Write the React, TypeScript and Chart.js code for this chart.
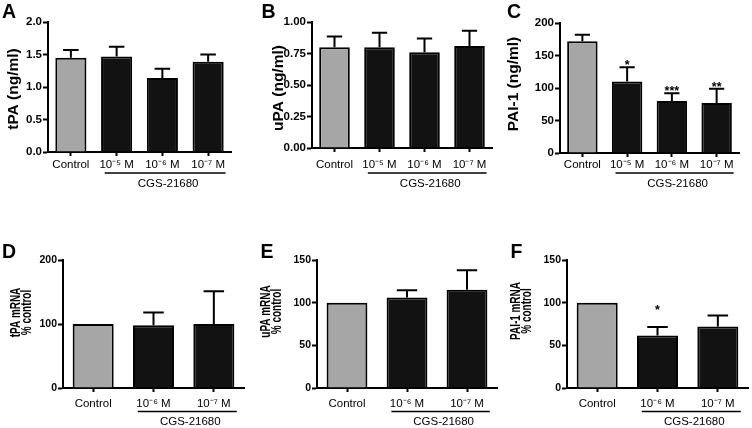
import React, { useEffect, useRef } from 'react';
import { Chart, registerables } from 'chart.js';

Chart.register(...registerables);

const FONT = '"Liberation Sans", Arial, Helvetica, sans-serif';

// ---------------- data ----------------
const proteinCategories = ['Control', '10⁻⁵ M', '10⁻⁶ M', '10⁻⁷ M'];
const mrnaCategories = ['Control', '10⁻⁶ M', '10⁻⁷ M'];
const treatmentGroup = 'CGS-21680';

const tpaProtein = [1.45, 1.47, 1.14, 1.39];
const tpaProteinSem = [0.12, 0.15, 0.14, 0.11];
const upaProtein = [0.8, 0.8, 0.76, 0.81];
const upaProteinSem = [0.085, 0.115, 0.11, 0.12];
const pai1Protein = [172, 110, 80, 77];
const pai1ProteinSem = [10, 22, 12, 22];
const pai1ProteinStars = ['', '*', '***', '**'];

const tpaMrna = [100, 98, 100];
const tpaMrnaSem = [0, 20, 51];
const upaMrna = [100, 106, 115];
const upaMrnaSem = [0, 8.5, 23];
const pai1Mrna = [100, 61.5, 72];
const pai1MrnaSem = [0, 10, 13];
const pai1MrnaStars = ['', '*', ''];
const pai1MrnaStarLevel = 95;

const tpaProteinTicks = [0, 0.5, 1, 1.5, 2];
const upaProteinTicks = [0, 0.25, 0.5, 0.75, 1];
const pai1ProteinTicks = [0, 50, 100, 150, 200];
const tpaMrnaTicks = [0, 100, 200];
const upaMrnaTicks = [0, 50, 100, 150];
const pai1MrnaTicks = [0, 50, 100, 150];

const tpaProteinTitle = ['tPA (ng/ml)'];
const upaProteinTitle = ['uPA (ng/ml)'];
const pai1ProteinTitle = ['PAI-1 (ng/ml)'];
const tpaMrnaTitle = ['tPA mRNA', '% control'];
const upaMrnaTitle = ['uPA mRNA', '% control'];
const pai1MrnaTitle = ['PAI-1 mRNA', '% control'];

const CONTROL_FILL = '#a6a6a6';
const TREATED_FILL = '#121212';
const INK = '#000000';

type Panel = {
  letter: string;
  letterX: number;
  letterY: number;
  title: string[];
  titleX: number;
  titleY: number;
  titleBaselines?: number[];
  titleSize: number;
  titleStretch: number;
  cats: string[];
  values: number[];
  errors: number[];
  stars?: string[];
  starLevel?: number;
  ticks: number[];
  decimals: number;
  tickSize: number;
  box: { x: number; y: number; w: number; h: number };
  area: { left: number; right: number; top: number; bottom: number };
  labelPad: number;
  lineY: number;
  groupY: number;
};

const panels: Panel[] = [
  {
    letter: 'A', letterX: 2, letterY: 18,
    title: tpaProteinTitle, titleX: 14, titleY: 89, titleSize: 15.5, titleStretch: 1,
    cats: proteinCategories, values: tpaProtein, errors: tpaProteinSem,
    ticks: tpaProteinTicks, decimals: 1, tickSize: 11.5,
    box: { x: 0, y: 0, w: 250, h: 210 },
    area: { left: 48, right: 231, top: 22, bottom: 152 },
    labelPad: 2, lineY: 173, groupY: 184,
  },
  {
    letter: 'B', letterX: 261.5, letterY: 18,
    title: upaProteinTitle, titleX: 279, titleY: 88, titleSize: 15.5, titleStretch: 1,
    cats: proteinCategories, values: upaProtein, errors: upaProteinSem,
    ticks: upaProteinTicks, decimals: 2, tickSize: 11.5,
    box: { x: 250, y: 0, w: 250, h: 210 },
    area: { left: 312, right: 492, top: 22, bottom: 148 },
    labelPad: 6, lineY: 173, groupY: 184,
  },
  {
    letter: 'C', letterX: 507, letterY: 18,
    title: pai1ProteinTitle, titleX: 514, titleY: 84, titleSize: 15.5, titleStretch: 1,
    cats: proteinCategories, values: pai1Protein, errors: pai1ProteinSem, stars: pai1ProteinStars,
    ticks: pai1ProteinTicks, decimals: 0, tickSize: 11.5,
    box: { x: 500, y: 0, w: 252, h: 210 },
    area: { left: 560, right: 739, top: 23, bottom: 153 },
    labelPad: 1, lineY: 173, groupY: 184,
  },
  {
    letter: 'D', letterX: 2, letterY: 258,
    title: tpaMrnaTitle, titleX: 21, titleY: 312.5, titleBaselines: [19.5, 30.5], titleSize: 14, titleStretch: 0.71,
    cats: mrnaCategories, values: tpaMrna, errors: tpaMrnaSem,
    ticks: tpaMrnaTicks, decimals: 0, tickSize: 10.5,
    box: { x: 0, y: 210, w: 250, h: 218 },
    area: { left: 63, right: 244, top: 260, bottom: 388 },
    labelPad: 5, lineY: 411.5, groupY: 422,
  },
  {
    letter: 'E', letterX: 260.5, letterY: 258,
    title: upaMrnaTitle, titleX: 270, titleY: 311.5, titleBaselines: [269.5, 280.5], titleSize: 14, titleStretch: 0.71,
    cats: mrnaCategories, values: upaMrna, errors: upaMrnaSem,
    ticks: upaMrnaTicks, decimals: 0, tickSize: 10.5,
    box: { x: 250, y: 210, w: 250, h: 218 },
    area: { left: 317, right: 497, top: 260, bottom: 388 },
    labelPad: 5, lineY: 411.5, groupY: 422,
  },
  {
    letter: 'F', letterX: 510.5, letterY: 258,
    title: pai1MrnaTitle, titleX: 520, titleY: 311, titleBaselines: [519.5, 530.5], titleSize: 14, titleStretch: 0.71,
    cats: mrnaCategories, values: pai1Mrna, errors: pai1MrnaSem, stars: pai1MrnaStars, starLevel: pai1MrnaStarLevel,
    ticks: pai1MrnaTicks, decimals: 0, tickSize: 10.5,
    box: { x: 500, y: 210, w: 252, h: 218 },
    area: { left: 567, right: 748, top: 260, bottom: 388 },
    labelPad: 5, lineY: 411.5, groupY: 422,
  },
];

function makeExtras(p: Panel) {
  return {
    id: 'figureExtras' + p.letter,
    afterDatasetsDraw(chart: any) {
      const ctx: CanvasRenderingContext2D = chart.ctx;
      const ys = chart.scales.y;
      const meta = chart.getDatasetMeta(0);
      ctx.save();
      ctx.strokeStyle = INK;
      ctx.fillStyle = INK;
      ctx.lineWidth = 2;
      meta.data.forEach((bar: any, i: number) => {
        const v = p.values[i];
        const e = p.errors[i];
        const topPx = ys.getPixelForValue(v + e);
        const capHalf = bar.width / 4;
        if (e > 0) {
          ctx.beginPath();
          ctx.moveTo(bar.x, bar.y);
          ctx.lineTo(bar.x, topPx);
          ctx.moveTo(bar.x - capHalf, topPx);
          ctx.lineTo(bar.x + capHalf, topPx);
          ctx.stroke();
        }
        const s = p.stars ? p.stars[i] : '';
        if (s) {
          const centerY = p.starLevel !== undefined ? ys.getPixelForValue(p.starLevel) : topPx - 5;
          ctx.font = `bold 12.5px ${FONT}`;
          ctx.textAlign = 'center';
          ctx.textBaseline = 'alphabetic';
          ctx.fillText(s, bar.x, centerY + 12.5 * 0.58);
        }
      });
      ctx.restore();
    },
    afterDraw(chart: any) {
      const ctx: CanvasRenderingContext2D = chart.ctx;
      const xs = chart.scales.x;
      const ox = p.box.x;
      const oy = p.box.y;
      const n = p.cats.length;
      const w = xs.width / n;
      ctx.save();
      // group underline + label
      const x1 = xs.getPixelForValue(1) - 0.26 * w;
      const x2 = xs.getPixelForValue(n - 1) + 0.38 * w;
      ctx.strokeStyle = INK;
      ctx.lineWidth = 1.5;
      ctx.beginPath();
      ctx.moveTo(x1, p.lineY - oy);
      ctx.lineTo(x2, p.lineY - oy);
      ctx.stroke();
      ctx.fillStyle = INK;
      ctx.font = `11.5px ${FONT}`;
      ctx.textAlign = 'center';
      ctx.textBaseline = 'middle';
      ctx.fillText(treatmentGroup, (x1 + x2) / 2 + 3, p.groupY - oy);
      // panel letter
      ctx.font = `bold 19.5px ${FONT}`;
      ctx.textAlign = 'left';
      ctx.textBaseline = 'alphabetic';
      ctx.fillText(p.letter, p.letterX - ox, p.letterY - oy);
      // y-axis title (rotated)
      ctx.font = `bold ${p.titleSize}px ${FONT}`;
      ctx.textAlign = 'center';
      p.title.forEach((line, i) => {
        ctx.save();
        const bx = p.titleBaselines ? p.titleBaselines[i] : p.titleX;
        ctx.translate(bx - ox, p.titleY - oy);
        ctx.rotate(-Math.PI / 2);
        ctx.scale(p.titleStretch, 1);
        ctx.textBaseline = p.titleBaselines ? 'alphabetic' : 'middle';
        ctx.fillText(line, 0, 0);
        ctx.restore();
      });
      ctx.restore();
    },
  };
}

function PanelChart({ p }: { p: Panel }) {
  const ref = useRef<HTMLCanvasElement | null>(null);
  useEffect(() => {
    if (!ref.current) return;
    const yAxisWidth = p.area.left - p.box.x;
    const xAxisHeight = p.box.y + p.box.h - p.area.bottom;
    const chart = new Chart(ref.current, {
      type: 'bar',
      data: {
        labels: p.cats,
        datasets: [
          {
            data: p.values,
            backgroundColor: p.values.map((_, i) => (i === 0 ? CONTROL_FILL : TREATED_FILL)),
            borderColor: INK,
            borderWidth: 2,
            borderSkipped: 'start',
            barPercentage: 0.68,
            categoryPercentage: 1,
          },
        ],
      },
      options: {
        responsive: false,
        animation: false,
        events: [],
        layout: {
          padding: {
            left: 0,
            top: p.area.top - p.box.y,
            right: p.box.x + p.box.w - p.area.right,
            bottom: 0,
          },
        },
        plugins: { legend: { display: false }, tooltip: { enabled: false }, title: { display: false } },
        scales: {
          x: {
            type: 'category',
            offset: true,
            grid: {
              display: true,
              drawOnChartArea: false,
              drawTicks: true,
              tickLength: 4,
              tickWidth: 2,
              tickColor: INK,
              offset: false,
              color: INK,
            },
            border: { display: true, color: INK, width: 2 },
            ticks: {
              color: INK,
              font: { family: FONT, size: 11.5 },
              padding: p.labelPad,
              autoSkip: false,
              maxRotation: 0,
              minRotation: 0,
            },
            afterFit: (s: any) => {
              s.height = xAxisHeight;
            },
          },
          y: {
            type: 'linear',
            min: p.ticks[0],
            max: p.ticks[p.ticks.length - 1],
            afterBuildTicks: (s: any) => {
              s.ticks = p.ticks.map((v) => ({ value: v }));
            },
            grid: {
              display: true,
              drawOnChartArea: false,
              drawTicks: true,
              tickLength: 5,
              tickWidth: 2,
              tickColor: INK,
              color: INK,
            },
            border: { display: true, color: INK, width: 2 },
            ticks: {
              color: INK,
              font: { family: FONT, size: p.tickSize, weight: 'bold' },
              padding: 1,
              callback: (v: any) => Number(v).toFixed(p.decimals),
            },
            afterFit: (s: any) => {
              s.width = yAxisWidth;
            },
          },
        },
      },
      plugins: [makeExtras(p)],
    } as any);
    return () => chart.destroy();
  }, [p]);
  return (
    <canvas
      ref={ref}
      width={p.box.w}
      height={p.box.h}
      style={{ position: 'absolute', left: p.box.x, top: p.box.y, width: p.box.w, height: p.box.h }}
    />
  );
}

export default function App() {
  return (
    <div
      style={{
        position: 'fixed',
        left: 0,
        top: 0,
        width: 752,
        height: 428,
        background: '#ffffff',
        overflow: 'hidden',
      }}
    >
      {panels.map((p) => (
        <PanelChart key={p.letter} p={p} />
      ))}
    </div>
  );
}
